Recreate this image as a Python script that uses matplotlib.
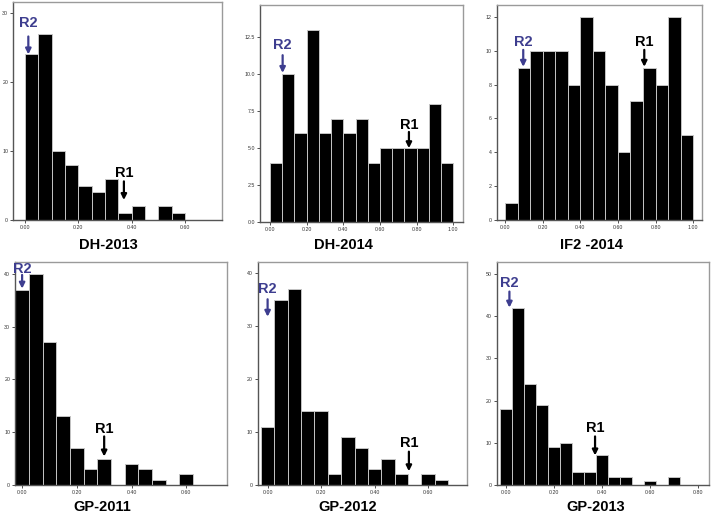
import matplotlib
matplotlib.use("Agg")
import matplotlib.pyplot as plt
import numpy as np

plt.rcParams['font.family'] = ['Liberation Sans', 'DejaVu Sans']

# ---------------- data ----------------
titles = ["DH-2013", "DH-2014", "IF2 -2014", "GP-2011", "GP-2012", "GP-2013"]

bin_width_dh2013 = 0.05
bin_start_dh2013 = 0.0
counts_dh2013 = [24, 27, 10, 8, 5, 4, 6, 1, 2, 0, 2, 1]

bin_width_dh2014 = 1 / 15
bin_start_dh2014 = 0.0
counts_dh2014 = [4, 10, 6, 13, 6, 7, 6, 7, 4, 5, 5, 5, 5, 8, 4]

bin_width_if2014 = 1 / 15
bin_start_if2014 = 0.0
counts_if2014 = [1, 9, 10, 10, 10, 8, 12, 10, 8, 4, 7, 9, 8, 12, 5]

bin_width_gp2011 = 0.05
bin_start_gp2011 = -0.025
counts_gp2011 = [37, 40, 27, 13, 7, 3, 5, 0, 4, 3, 1, 0, 2]

bin_width_gp2012 = 0.05
bin_start_gp2012 = -0.025
counts_gp2012 = [11, 35, 37, 14, 14, 2, 9, 7, 3, 5, 2, 0, 2, 1]

bin_width_gp2013 = 0.05
bin_start_gp2013 = -0.025
counts_gp2013 = [18, 42, 24, 19, 9, 10, 3, 3, 7, 2, 2, 0, 1, 0, 2]

# annotation positions (x, text y, arrow start y, arrow tip y)
r2_marks = [(0.0125, 28.5, 26.6, 24.0), (0.069, 12.0, 11.3, 10.1),
            (0.097, 10.5, 10.05, 9.05), (0.0, 40.9, 39.8, 37.2),
            (0.0, 37.0, 35.1, 31.8), (0.014, 47.8, 45.8, 42.0)]
r1_marks = [(0.371, 6.85, 5.6, 2.9), (0.758, 6.57, 6.1, 5.0),
            (0.74, 10.5, 10.05, 9.05), (0.30, 10.7, 9.2, 5.4),
            (0.528, 7.9, 6.3, 2.6), (0.371, 13.4, 11.5, 7.0)]

yticks_list = [[0, 10, 20, 30], [0, 2.5, 5, 7.5, 10, 12.5], [0, 2, 4, 6, 8, 10, 12],
               [0, 10, 20, 30, 40], [0, 10, 20, 30, 40], [0, 10, 20, 30, 40, 50]]
ytick_fmt = ["{:.0f}", "{:.1f}", "{:.0f}", "{:.0f}", "{:.0f}", "{:.0f}"]
xticks_list = [[0, 0.2, 0.4, 0.6], [0, 0.2, 0.4, 0.6, 0.8, 1.0], [0, 0.2, 0.4, 0.6, 0.8, 1.0],
               [0, 0.2, 0.4, 0.6], [0, 0.2, 0.4, 0.6], [0, 0.2, 0.4, 0.6, 0.8]]

# ---------------- layout ----------------
W, H = 712, 515
boxes_px = [(13, 222, 2, 220), (260, 463, 5, 222), (496.7, 701.7, 5, 220),
            (15, 226.7, 261.7, 485), (257.7, 466.7, 261.7, 485), (496.7, 709, 262, 485)]
xlims = [(-0.045, 0.739), (-0.0545, 1.053), (-0.044, 1.045),
         (-0.026, 0.748), (-0.037, 0.744), (-0.039, 0.846)]
ylims = [31.6, 14.7, 12.7, 42.3, 42.2, 52.8]
title_pos = [(108, 245), (343, 245), (592, 245), (102, 507), (348, 507), (596, 507)]

series = [(bin_start_dh2013, bin_width_dh2013, counts_dh2013),
          (bin_start_dh2014, bin_width_dh2014, counts_dh2014),
          (bin_start_if2014, bin_width_if2014, counts_if2014),
          (bin_start_gp2011, bin_width_gp2011, counts_gp2011),
          (bin_start_gp2012, bin_width_gp2012, counts_gp2012),
          (bin_start_gp2013, bin_width_gp2013, counts_gp2013)]

fig = plt.figure(figsize=(W / 100, H / 100), dpi=100)
blue = "#3d3d8f"

for i in range(6):
    l, r, t, b = boxes_px[i]
    ax = fig.add_axes([l / W, 1 - b / H, (r - l) / W, (b - t) / H])
    start, width, counts = series[i]
    lefts = start + width * np.arange(len(counts))
    ax.bar(lefts, counts, width=width, align='edge', color='black',
           edgecolor='#c4c4c4', linewidth=0.7)
    ax.set_xlim(*xlims[i])
    ax.set_ylim(0, ylims[i])
    ax.set_xticks(xticks_list[i])
    ax.set_xticklabels(["{:.2f}".format(v) for v in xticks_list[i]])
    ax.set_yticks(yticks_list[i])
    ax.set_yticklabels([ytick_fmt[i].format(v) for v in yticks_list[i]])
    ax.tick_params(labelsize=3.8, length=2, width=0.6, colors='#333333', pad=1.5)
    for s in ax.spines.values():
        s.set_color('#9a9a9a')
        s.set_linewidth(1.0)
    ax.spines['bottom'].set_color('#555555')
    ax.spines['left'].set_color('#555555')

    x, ty, sy, tipy = r2_marks[i]
    ax.text(x, ty, "R2", color=blue, fontsize=10.5, fontweight='bold',
            ha='center', va='center')
    ax.annotate('', xy=(x, tipy), xytext=(x, sy),
                arrowprops=dict(arrowstyle='-|>', color=blue, lw=1.6,
                                mutation_scale=8, shrinkA=0, shrinkB=0))
    x, ty, sy, tipy = r1_marks[i]
    ax.text(x, ty, "R1", color='black', fontsize=10.5, fontweight='bold',
            ha='center', va='center')
    ax.annotate('', xy=(x, tipy), xytext=(x, sy),
                arrowprops=dict(arrowstyle='-|>', color='black', lw=1.6,
                                mutation_scale=8, shrinkA=0, shrinkB=0))

    tx, tyy = title_pos[i]
    fig.text(tx / W, 1 - tyy / H, titles[i], fontsize=10.5, fontweight='bold',
             ha='center', va='center')

fig.savefig("out.png", dpi=100)
